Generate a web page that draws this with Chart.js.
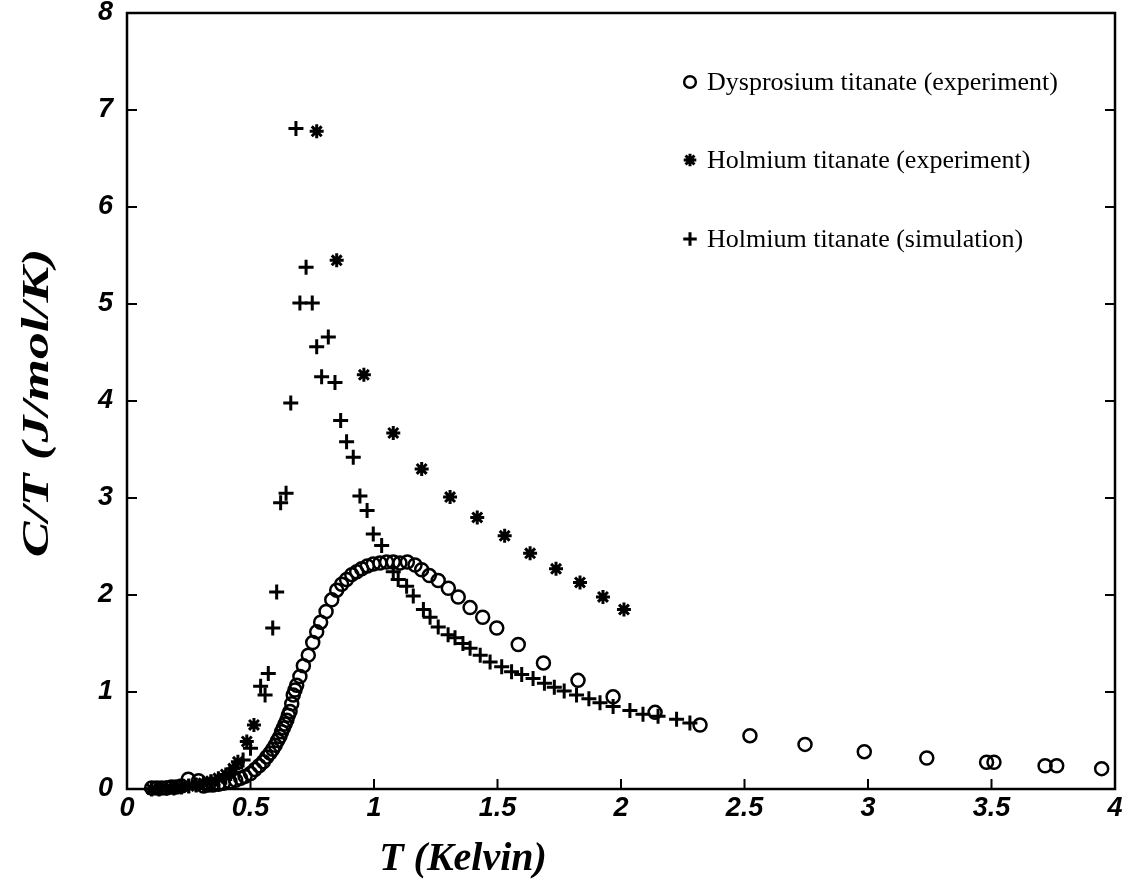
<!DOCTYPE html>
<html>
<head>
<meta charset="utf-8">
<script src="https://cdn.jsdelivr.net/npm/chart.js@4.4.0/dist/chart.umd.min.js"></script>
<style>
  html, body { margin: 0; padding: 0; background: #fff; }
  canvas { display: block; }
</style>
</head>
<body>
<canvas id="heat" width="1135" height="893"></canvas>
<script>
// Dysprosium titanate (experiment) - open circles
var dyT = [0.10, 0.12, 0.14, 0.16, 0.18, 0.20, 0.22, 0.248, 0.29, 0.31, 0.33, 0.348, 0.37, 0.39, 0.417, 0.44, 0.46, 0.478, 0.50,
  0.518, 0.535, 0.552, 0.566, 0.579, 0.59, 0.60, 0.61, 0.619, 0.626, 0.633, 0.64, 0.647, 0.653, 0.66, 0.667, 0.673, 0.68,
  0.687, 0.70, 0.714, 0.734, 0.752, 0.768, 0.784, 0.806, 0.829, 0.849, 0.869, 0.889, 0.91, 0.93, 0.95, 0.973, 0.997,
  1.024, 1.051, 1.078, 1.105, 1.135, 1.166, 1.193, 1.224, 1.26, 1.301, 1.341, 1.389, 1.44, 1.497, 1.584, 1.686, 1.826,
  1.968, 2.138, 2.32, 2.522, 2.745, 2.985, 3.238, 3.48, 3.51, 3.717, 3.764, 3.946];
var dyC = [0.01, 0.01, 0.01, 0.01, 0.02, 0.02, 0.03, 0.10, 0.085, 0.03, 0.04, 0.04, 0.05, 0.06, 0.075, 0.09, 0.11, 0.13, 0.16,
  0.20, 0.24, 0.28, 0.33, 0.37, 0.41, 0.45, 0.50, 0.54, 0.59, 0.63, 0.67, 0.71, 0.76, 0.80, 0.88, 0.97, 1.02,
  1.07, 1.16, 1.27, 1.38, 1.51, 1.62, 1.72, 1.83, 1.95, 2.05, 2.11, 2.16, 2.21, 2.24, 2.27, 2.30, 2.32,
  2.33, 2.34, 2.34, 2.33, 2.34, 2.31, 2.26, 2.20, 2.15, 2.07, 1.98, 1.87, 1.77, 1.66, 1.49, 1.30, 1.12,
  0.95, 0.79, 0.66, 0.55, 0.46, 0.385, 0.32, 0.275, 0.275, 0.24, 0.24, 0.21];

// Holmium titanate (experiment) - asterisks
var hoExpT = [0.10, 0.13, 0.16, 0.19, 0.22, 0.25, 0.28, 0.31, 0.34, 0.37, 0.40, 0.43, 0.449, 0.485, 0.514,
  0.768, 0.849, 0.959, 1.078, 1.193, 1.308, 1.418, 1.529, 1.632, 1.737, 1.834, 1.927, 2.012];
var hoExpC = [0.0, 0.0, 0.01, 0.01, 0.02, 0.03, 0.04, 0.06, 0.08, 0.11, 0.15, 0.21, 0.28, 0.49, 0.66,
  6.78, 5.45, 4.27, 3.67, 3.30, 3.01, 2.80, 2.61, 2.43, 2.27, 2.13, 1.98, 1.85];

// Holmium titanate (simulation) - plus signs
var hoSimT = [0.10, 0.13, 0.16, 0.19, 0.22, 0.25, 0.28, 0.31, 0.34, 0.37, 0.40, 0.42, 0.44, 0.47, 0.50,
  0.541, 0.559, 0.572, 0.590, 0.606, 0.622, 0.644, 0.663, 0.684, 0.70, 0.75, 0.725, 0.768, 0.815, 0.788,
  0.842, 0.865, 0.889, 0.916, 0.943, 0.972, 0.997, 1.031, 1.078, 1.098, 1.132, 1.159, 1.20, 1.227, 1.26,
  1.30, 1.328, 1.36, 1.389, 1.43, 1.47, 1.517, 1.557, 1.598, 1.644, 1.69, 1.73, 1.77, 1.82, 1.87,
  1.915, 1.968, 2.036, 2.089, 2.15, 2.225, 2.279];
var hoSimC = [0.0, 0.0, 0.01, 0.01, 0.02, 0.03, 0.04, 0.05, 0.07, 0.09, 0.12, 0.16, 0.22, 0.30, 0.42,
  1.06, 0.97, 1.19, 1.66, 2.03, 2.95, 3.05, 3.98, 6.81, 5.01, 5.01, 5.38, 4.56, 4.66, 4.25,
  4.19, 3.80, 3.58, 3.42, 3.02, 2.87, 2.63, 2.51, 2.24, 2.16, 2.09, 1.99, 1.85, 1.77, 1.67,
  1.59, 1.56, 1.50, 1.45, 1.38, 1.31, 1.26, 1.21, 1.18, 1.14, 1.09, 1.05, 1.01, 0.97, 0.93,
  0.89, 0.85, 0.81, 0.77, 0.75, 0.72, 0.68];

var seriesNames = ['Dysprosium titanate (experiment)', 'Holmium titanate (experiment)', 'Holmium titanate (simulation)'];
var seriesStyles = ['circle', 'star', 'cross'];
var xTicks = [0, 0.5, 1, 1.5, 2, 2.5, 3, 3.5, 4];
var yTicks = [0, 1, 2, 3, 4, 5, 6, 7, 8];
var xTitle = 'T (Kelvin)';
var yTitle = 'C/T (J/mol/K)';

function pairs(xs, ys) {
  return xs.map(function (x, i) { return { x: x, y: ys[i] }; });
}

function markerOpts(style) {
  if (style === 'circle') return { pointStyle: 'circle', radius: 6.5, borderWidth: 2.5 };
  if (style === 'star') return { pointStyle: 'star', radius: 7, borderWidth: 3 };
  return { pointStyle: 'cross', radius: 7.5, borderWidth: 3 };
}

// box, inward ticks, legend and axis titles
var framePlugin = {
  id: 'frame',
  afterDraw: function (chart) {
    var ctx = chart.ctx, a = chart.chartArea;
    var xs = chart.scales.x, ys = chart.scales.y;
    ctx.save();
    ctx.strokeStyle = '#000';
    ctx.lineWidth = 2.5;
    ctx.strokeRect(a.left, a.top, a.right - a.left, a.bottom - a.top);
    ctx.lineWidth = 2;
    ctx.beginPath();
    xTicks.forEach(function (v) {
      var px = xs.getPixelForValue(v);
      ctx.moveTo(px, a.bottom);
      ctx.lineTo(px, a.bottom - 10);
    });
    yTicks.forEach(function (v) {
      var py = ys.getPixelForValue(v);
      ctx.moveTo(a.left, py);
      ctx.lineTo(a.left + 10, py);
      ctx.moveTo(a.right, py);
      ctx.lineTo(a.right - 10, py);
    });
    ctx.stroke();

    // legend
    ctx.fillStyle = '#000';
    ctx.font = '26px "Liberation Serif", serif';
    ctx.textBaseline = 'middle';
    ctx.textAlign = 'left';
    var rows = [82, 160, 239];
    seriesNames.forEach(function (name, i) {
      var m = markerOpts(seriesStyles[i]);
      var o = { pointStyle: m.pointStyle, radius: m.radius * 0.9, borderWidth: m.borderWidth, rotation: 0 };
      ctx.strokeStyle = '#000';
      ctx.fillStyle = 'rgba(0,0,0,0)';
      ctx.lineWidth = o.borderWidth;
      Chart.helpers.drawPoint(ctx, o, 690, rows[i]);
      ctx.fillStyle = '#000';
      ctx.fillText(name, 707, rows[i] + 1);
    });

    // axis titles
    ctx.font = 'bold italic 40px "Liberation Serif", serif';
    ctx.textAlign = 'center';
    ctx.fillText(xTitle, 463, 860);
    ctx.save();
    ctx.translate(38, 403);
    ctx.rotate(-Math.PI / 2);
    ctx.scale(1.45, 1);
    ctx.font = 'bold italic 37px "Liberation Serif", serif';
    ctx.fillText(yTitle, 0, 0);
    ctx.restore();
    ctx.restore();
  }
};

var sets = [[dyT, dyC], [hoExpT, hoExpC], [hoSimT, hoSimC]].map(function (s, i) {
  var m = markerOpts(seriesStyles[i]);
  return {
    label: seriesNames[i],
    data: pairs(s[0], s[1]),
    pointStyle: m.pointStyle,
    pointRadius: m.radius,
    pointBorderWidth: m.borderWidth,
    borderColor: '#000',
    backgroundColor: 'rgba(0,0,0,0)',
    pointBackgroundColor: 'rgba(0,0,0,0)',
    showLine: false,
    clip: false
  };
});

var tickFont = { family: '"Liberation Sans", Arial, sans-serif', size: 27, style: 'italic', weight: 'bold' };

new Chart(document.getElementById('heat'), {
  type: 'scatter',
  data: { datasets: sets },
  options: {
    responsive: false,
    animation: false,
    layout: { padding: { top: 13, right: 20, left: 0, bottom: 0 }, autoPadding: false },
    plugins: {
      legend: { display: false },
      tooltip: { enabled: false }
    },
    scales: {
      x: {
        type: 'linear',
        min: 0,
        max: 4,
        grid: { display: false, drawTicks: false },
        border: { display: false },
        afterFit: function (s) { s.height = 104; s.paddingLeft = 0; s.paddingRight = 0; },
        afterBuildTicks: function (s) { s.ticks = xTicks.map(function (v) { return { value: v }; }); },
        ticks: {
          color: '#000',
          font: tickFont,
          padding: 3,
          maxRotation: 0,
          callback: function (v) { return String(v); }
        }
      },
      y: {
        type: 'linear',
        min: 0,
        max: 8,
        grid: { display: false, drawTicks: false },
        border: { display: false },
        afterFit: function (s) { s.width = 127; s.paddingTop = 0; s.paddingBottom = 0; },
        afterBuildTicks: function (s) { s.ticks = yTicks.map(function (v) { return { value: v }; }); },
        ticks: {
          color: '#000',
          font: tickFont,
          padding: 14,
          callback: function (v) { return String(v); }
        }
      }
    }
  },
  plugins: [framePlugin]
});
</script>
</body>
</html>
